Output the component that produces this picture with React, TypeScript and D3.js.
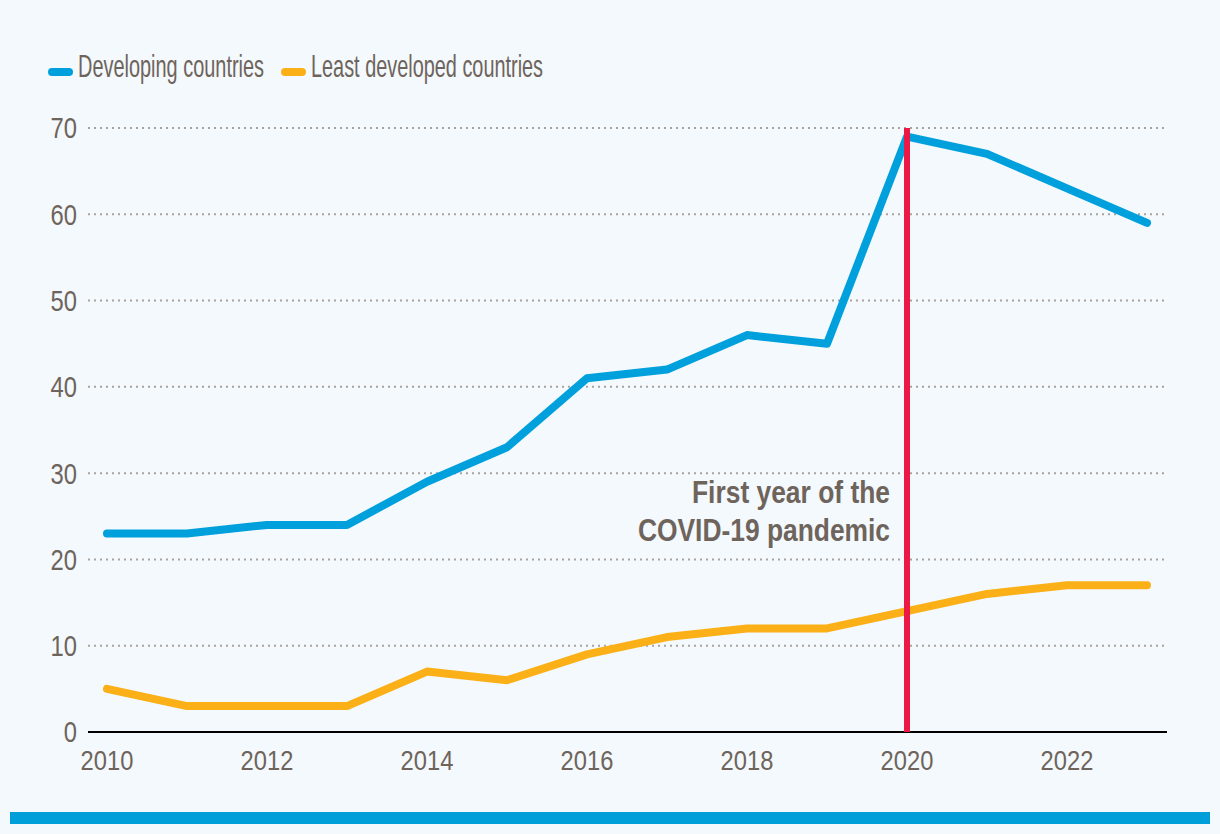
import React, { useLayoutEffect, useRef, useState } from "react";
import * as d3 from "d3";

const years = [2010, 2011, 2012, 2013, 2014, 2015, 2016, 2017, 2018, 2019, 2020, 2021, 2022, 2023];
const developing = [23, 23, 24, 24, 29, 33, 41, 42, 46, 45, 69, 67, 63, 59];
const leastDeveloped = [5, 3, 3, 3, 7, 6, 9, 11, 12, 12, 14, 16, 17, 17];
const yTicks = [0, 10, 20, 30, 40, 50, 60, 70];
const xTicks = [2010, 2012, 2014, 2016, 2018, 2020, 2022];
const seriesNames = ["Developing countries", "Least developed countries"];
const annotationLines = ["First year of the", "COVID-19 pandemic"];
const covidYear = 2020;

const W = 1220;
const H = 834;
const FONT = "'Liberation Sans', Arial, sans-serif";
const TEXT = "#6e645c";
const BLUE = "#00a0dc";
const ORANGE = "#fbb017";
const RED = "#ec1846";
const DIGIT_W = 13.2;

type FitProps = {
  x: number;
  y: number;
  width: number;
  anchor?: "start" | "middle" | "end";
  size: number;
  bold?: boolean;
  dy?: string;
  children: React.ReactNode;
};

function FitText({ x, y, width, anchor = "start", size, bold, dy, children }: FitProps) {
  const ref = useRef<SVGTextElement>(null);
  const [s, setS] = useState(0.65);
  useLayoutEffect(() => {
    if (ref.current) {
      const len = ref.current.getComputedTextLength();
      if (len > 0) setS(width / len);
    }
  }, [width, children]);
  return (
    <text
      ref={ref}
      transform={`translate(${x},${y}) scale(${s},1)`}
      x={0}
      y={0}
      dy={dy}
      textAnchor={anchor}
      fontSize={size}
      fontWeight={bold ? "bold" : "normal"}
      fill={TEXT}
    >
      {children}
    </text>
  );
}

export default function App() {
  const x = d3.scaleLinear().domain([2010, 2023]).range([107, 1147]);
  const y = d3.scaleLinear().domain([0, 70]).range([732, 128]);
  const line = d3
    .line<number>()
    .x((_, i) => x(years[i]))
    .y((d) => y(d));

  return (
    <svg
      width={W}
      height={H}
      style={{ position: "absolute", left: 0, top: 0, display: "block" }}
      fontFamily={FONT}
    >
      <rect x={0} y={0} width={W} height={H} fill="#f4f9fd" />
      {/* legend */}
      <line x1={52} x2={69} y1={72} y2={72} stroke={BLUE} strokeWidth={8} strokeLinecap="round" />
      <FitText x={78} y={77} size={31} width={186}>{seriesNames[0]}</FitText>
      <line x1={285} x2={302} y1={72} y2={72} stroke={ORANGE} strokeWidth={8} strokeLinecap="round" />
      <FitText x={311} y={77} size={31} width={232}>{seriesNames[1]}</FitText>
      {/* grid */}
      {yTicks.filter((t) => t > 0).map((t) => (
        <line key={t} x1={88} x2={1167} y1={y(t)} y2={y(t)} stroke="#a9a39e" strokeWidth={2} strokeDasharray="2,4" />
      ))}
      {yTicks.map((t) => (
        <FitText key={t} x={77} y={y(t)} dy="0.36em" anchor="end" size={29} width={String(t).length * DIGIT_W}>{t}</FitText>
      ))}
      {xTicks.map((t) => (
        <FitText key={t} x={x(t)} y={770} anchor="middle" size={27} width={String(t).length * DIGIT_W}>{t}</FitText>
      ))}
      {/* lines */}
      <path d={line(leastDeveloped) || ""} fill="none" stroke={ORANGE} strokeWidth={8} strokeLinecap="round" strokeLinejoin="round" />
      <path d={line(developing) || ""} fill="none" stroke={BLUE} strokeWidth={8} strokeLinecap="round" strokeLinejoin="round" />
      {/* axis */}
      <line x1={88} x2={1167} y1={732} y2={732} stroke="#000" strokeWidth={2} />
      {/* covid line */}
      <line x1={x(covidYear)} x2={x(covidYear)} y1={y(70)} y2={y(0)} stroke={RED} strokeWidth={6} />
      <FitText x={890} y={503} anchor="end" size={31} bold width={198}>{annotationLines[0]}</FitText>
      <FitText x={890} y={541} anchor="end" size={31} bold width={252}>{annotationLines[1]}</FitText>
      {/* bottom bar */}
      <rect x={10} y={812} width={1200} height={12} fill="#009fda" />
    </svg>
  );
}
